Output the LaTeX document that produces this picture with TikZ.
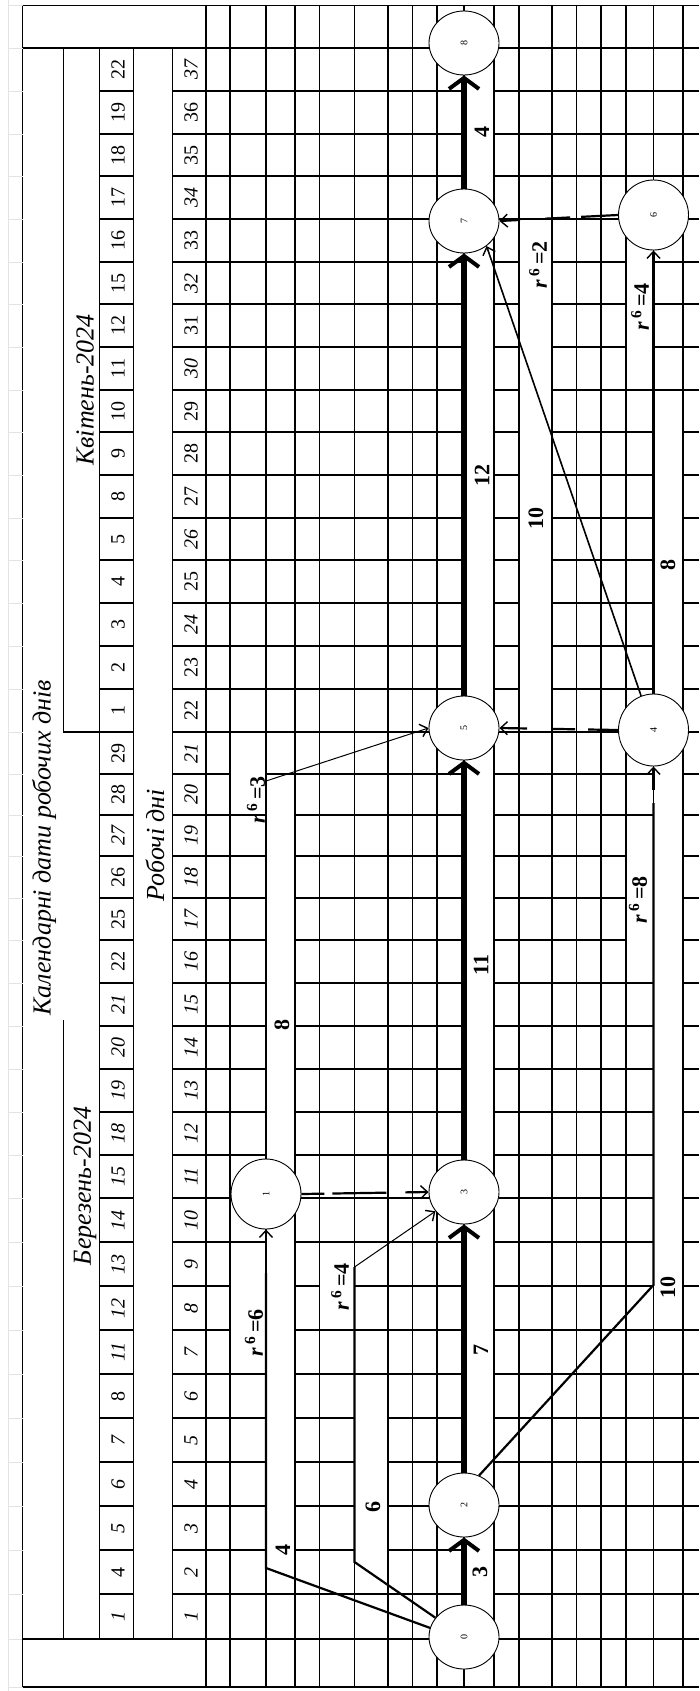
\documentclass[tikz,border=0pt]{standalone}
\usepackage{fontspec}
\setmainfont{Liberation Serif}
\usepackage{graphicx}
\usetikzlibrary{arrows.meta,positioning,shapes.geometric}

\newcommand{\rf}[1]{{\itshape r}\,\textsuperscript{6}\,=#1}

\begin{document}
\begin{tikzpicture}[
  x=1pt,y=-1pt,
  grid/.style={line width=1.3pt},
  faint/.style={line width=0.8pt,gray!22},
  num/.style={rotate=90,inner sep=0pt,font=\fontsize{20}{22}\selectfont},
  head/.style={rotate=90,inner sep=0pt,font=\fontsize{26}{28}\selectfont\itshape},
  lbl/.style={rotate=90,inner sep=0pt,font=\fontsize{22}{24}\selectfont\bfseries},
  ev/.style={ellipse,draw,fill=white,line width=0.9pt,minimum width=70pt,minimum height=64pt,inner sep=0pt,font=\fontsize{10}{10}\selectfont},
  crit/.style={line width=6pt,-{Straight Barb[length=11pt,width=30pt,line width=4pt]}},
  act/.style={line width=2.2pt},
  tip/.style={-{Straight Barb[length=7pt,width=13pt,line width=1.4pt]}},
  dsh/.style={line width=2.2pt,dash pattern=on 30pt off 13pt on 24pt off 24pt,tip},
]
\useasboundingbox (0,0) rectangle (699,1691);

% sheet lines outside the table
\draw[faint] (8.3,0) -- (8.3,1691);
\foreach \yy in {5.7,1639,1687} \draw[faint] (8.3,\yy) -- (22.7,\yy);

% frame and header
\draw[grid] (22.7,5.7) -- (699,5.7) (22.7,1687) -- (699,1687) (22.7,5.7) -- (22.7,1687);
\draw[grid] (22.7,48) -- (699,48) (22.7,1639) -- (699,1639);
\foreach \xx in {99.3,133.3,172.7} \draw[grid] (\xx,48) -- (\xx,1639);
\draw[grid] (63.3,48) -- (63.3,732) -- (99.3,732) (63.3,1020) -- (63.3,1639);
\foreach \xx in {206,230,266,295,319.5,354.5,388,412.5,437,464,494,519,552,576.5,601,626,653.5,683}
  \draw[grid] (\xx,5.7) -- (\xx,1687);

% days: calendar date / working day
\foreach \yy/\dc/\dw [count=\k, remember=\yy as \yp (initially 1639)] in {
  1594/\textit{1}/\textit{1}, 1550/4/\textit{2}, 1506/\textit{5}/\textit{3},
  1462/\textit{6}/\textit{4}, 1418/\textit{7}/\textit{5}, 1374/8/\textit{6},
  1330/\textit{11}/\textit{7}, 1286/\textit{12}/\textit{8}, 1242/\textit{13}/\textit{9},
  1198/\textit{14}/\textit{10}, 1155/\textit{15}/\textit{11}, 1112/\textit{18}/\textit{12},
  1069/\textit{19}/\textit{13}, 1026/\textit{20}/\textit{14}, 983/\textit{21}/\textit{15},
  940/22/\textit{16}, 898/25/\textit{17}, 856/26/\textit{18}, 815/\textit{27}/\textit{19},
  774/28/\textit{20}, 732/29/\textit{21}, 689/1/22, 646/2/23, 603/3/\textit{24},
  560/4/25, 518/5/\textit{26}, 475/8/27, 432/9/28, 390/10/29, 347/11/\textit{30},
  304/12/31, 262/15/\textit{32}, 219/16/33, 176/17/\textit{34}, 134/18/35,
  91/19/36, 48/22/\textit{37}}
{
  \draw[faint] (8.3,\yy) -- (22.7,\yy);
  \draw[grid] (99.3,\yy) -- (133.3,\yy) (172.7,\yy) -- (699,\yy);
  \node[num] (cal\k) at (118,{(\yy+\yp)/2}) {\dc};
  \node[num] (day\k) at (191,{(\yy+\yp)/2}) {\dw};
}

\node[head] (ttl) at (44,848) {Календарні дати робочих днів};
\node[head] (mar) at (85,1186) {Березень-2024};
\node[head] (apr) at (85,390) {Квітень-2024};
\node[head] (rob) at (155,845) {Робочі дні};

% white label strips
\foreach \xa/\xb/\ya/\yb in {464/494/48/1639, 266/295/1198/1570, 266/295/774/1198,
  230/266/1242/1374, 230/266/732/815, 354.5/388/1374/1562, 319.5/354.5/1242/1330,
  653.5/683/766/1330, 626/653.5/815/983, 653.5/683/390/695, 626/653.5/219/390,
  519/552/219/732}
  \fill[white] (\xa+0.8,\ya+0.8) rectangle (\xb-0.8,\yb-0.8);

% events
\node[ev] (n0) at (464,1637) {\rotatebox{90}{0}};
\node[ev] (n2) at (464,1505) {\rotatebox{90}{2}};
\node[ev,minimum height=70pt] (n1) at (266,1194) {\rotatebox{90}{1}};
\node[ev] (n3) at (464,1192) {\rotatebox{90}{3}};
\node[ev] (n5) at (464,728) {\rotatebox{90}{5}};
\node[ev,minimum height=72pt] (n4) at (653.5,730) {\rotatebox{90}{4}};
\node[ev,minimum height=70pt] (n6) at (653.5,215) {\rotatebox{90}{6}};
\node[ev] (n7) at (464,221) {\rotatebox{90}{7}};
\node[ev] (n8) at (464,43) {\rotatebox{90}{8}};

% critical path
\draw[crit] (n0) -- (n2);
\draw[crit] (n2) -- (n3);
\draw[crit] (n3) -- (n5);
\draw[crit] (n5) -- (n7);
\draw[crit] (n7) -- (n8);

% other works
\coordinate (k01) at (266,1568);
\coordinate (e01) at (266,1273);
\coordinate (d01) at (266,1266);
\draw[act] (n0.165) -- (k01) -- (e01);
\draw[act,tip,dash pattern=on 14pt off 12pt] (d01) -- (n1.south);

\coordinate (k03) at (354.5,1562);
\coordinate (e03) at (354.5,1267);
\draw[act] (n0.146) -- (k03) -- (e03);
\draw[line width=1pt,tip] (e03) -- (n3.-146);

\draw[dsh,dash pattern=on 23pt off 8pt on 54pt off 19pt] (n1.east) -- (n3.west);

\coordinate (e15) at (266,781);
\draw[act] (n1.north) -- (e15);
\draw[line width=1pt,tip] (e15) -- (n5.west);

\coordinate (k24) at (653.5,1285);
\coordinate (e24) at (653.5,803);
\coordinate (d24) at (653.5,790);
\draw[act] (n2.63) -- (k24) -- (e24);
\draw[act,tip] (d24) -- (n4.south);

\draw[dsh] (n4.west) -- (n5.east);
\draw[act,tip] (n4.north) -- (n6.south);
\draw[line width=1.6pt,tip] (n4.110) -- (n7.-48);
\draw[dsh,dash pattern=on 37pt off 11pt on 25pt off 25pt] (n6.west) -- (n7.east);

% durations and free floats
\node[lbl] (w02) at (480,1572) {3};
\node[lbl] (w23) at (481,1350) {7};
\node[lbl] (w35) at (481,965) {11};
\node[lbl] (w57) at (482,475) {12};
\node[lbl] (w78) at (482,132) {4};
\node[lbl] (w01) at (283,1550) {4};
\node[lbl] (r01) at (254,1333) {\rf{6}};
\node[lbl] (w15) at (282,1025) {8};
\node[lbl] (r15) at (256,800) {\rf{3}};
\node[lbl] (w03) at (373,1507) {6};
\node[lbl] (r03) at (340,1287) {\rf{4}};
\node[lbl] (w24) at (668,1287) {10};
\node[lbl] (r24) at (638,900) {\rf{8}};
\node[lbl] (w47) at (536,518) {10};
\node[lbl] (w46) at (668,565) {8};
\node[lbl] (r46) at (640,307) {\rf{4}};
\node[lbl] (r67) at (538,265) {\rf{2}};
\end{tikzpicture}
\end{document}
